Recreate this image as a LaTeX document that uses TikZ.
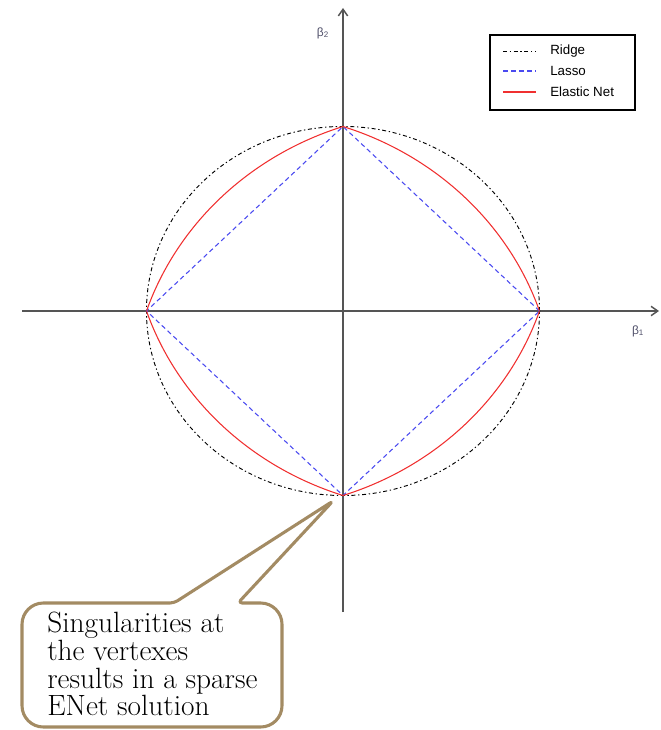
\documentclass[tikz,border=0pt]{standalone}
\usepackage{fontspec}
\newfontfamily\legendfont{Liberation Sans}
\usepackage{tikz}
\usetikzlibrary{arrows.meta,positioning,calc}
\definecolor{axisgray}{HTML}{555555}
\definecolor{lassoblue}{HTML}{4A4AF0}
\definecolor{enetred}{HTML}{F03030}
\definecolor{calloutbrown}{HTML}{A38B63}
\definecolor{betacol}{HTML}{50506A}

\begin{document}
\begin{tikzpicture}[x=0.75pt, y=-0.75pt,
    axis/.style={axisgray, line width=1.1pt, -{Straight Barb[length=5pt,width=7pt]}},
    ridge/.style={black, line width=0.7pt, dash pattern=on 3pt off 2pt on 1pt off 2pt},
    lasso/.style={lassoblue, line width=0.8pt, dash pattern=on 3.5pt off 2.5pt},
    enet/.style={enetred, line width=0.8pt},
    legtext/.style={font=\legendfont\fontsize{10}{12}\selectfont, anchor=west, inner sep=0pt},
    betalabel/.style={font=\legendfont\fontsize{9}{10}\selectfont, text=betacol, inner sep=0pt}]
    \useasboundingbox (0,0) rectangle (660,730);

    % origin and vertexes
    \coordinate (o) at (343,311);
    \coordinate (r) at (539.5,311);
    \coordinate (l) at (146.5,311);
    \coordinate (t) at (343,126.5);
    \coordinate (b) at (343,495.5);

    % axes
    \coordinate (xstart) at (22,311);
    \coordinate (xend) at (659,311);
    \coordinate (ystart) at (343,612);
    \coordinate (yend) at (343,8);
    \draw[axis] (xstart) -- (xend);
    \draw[axis] (ystart) -- (yend);
    \node[betalabel] (b1) at (638,331) {β\textsubscript{1}};
    \node[betalabel] (b2) at (323,33) {β\textsubscript{2}};

    % Ridge
    \draw[ridge] (o) ellipse [x radius=147.4pt, y radius=138.4pt];

    % Lasso
    \draw[lasso] (r) -- (t) -- (l) -- (b) -- cycle;

    % Elastic Net
    \foreach \sx/\sy in {1/1,-1/1,1/-1,-1/-1} {
        \begin{scope}[shift={(o)}, xscale=196.5*\sx, yscale=184.5*\sy]
            \draw[enet] plot[domain=0:1, samples=80, smooth]
                ({\x}, {(-1+sqrt(9-4*\x-4*\x*\x))/2});
        \end{scope}
    }

    % legend
    \draw[black, line width=0.8pt] (490,35) rectangle (635,110);
    \coordinate (s1) at (503,51);
    \coordinate (s2) at (503,71);
    \coordinate (s3) at (503,92);
    \draw[ridge] (s1) -- ++(33,0);
    \draw[lasso] (s2) -- ++(33,0);
    \draw[enet] (s3) -- ++(33,0);
    \node[legtext] (lridge) at (550,51) {Ridge};
    \node[legtext] (llasso) at (550,71) {Lasso};
    \node[legtext] (lenet) at (550,92) {Elastic Net};

    % callout
    \coordinate (tip) at (333,501);
    \draw[calloutbrown, line width=2.3pt, line join=round, fill=white]
        (22,665) [rounded corners=16pt] -- (22,603)
        [rounded corners=3pt] -- (174,603) -- (tip) -- (238,603)
        [rounded corners=16pt] -- (282,603) -- (282,727) -- (22,727) -- cycle;
    \node[anchor=north west, align=left, inner sep=0pt,
          font=\fontsize{22}{20.8}\selectfont] (note) at (47,612)
        {Singularities at\\the vertexes\\results in a sparse\\ENet solution};
\end{tikzpicture}
\end{document}
